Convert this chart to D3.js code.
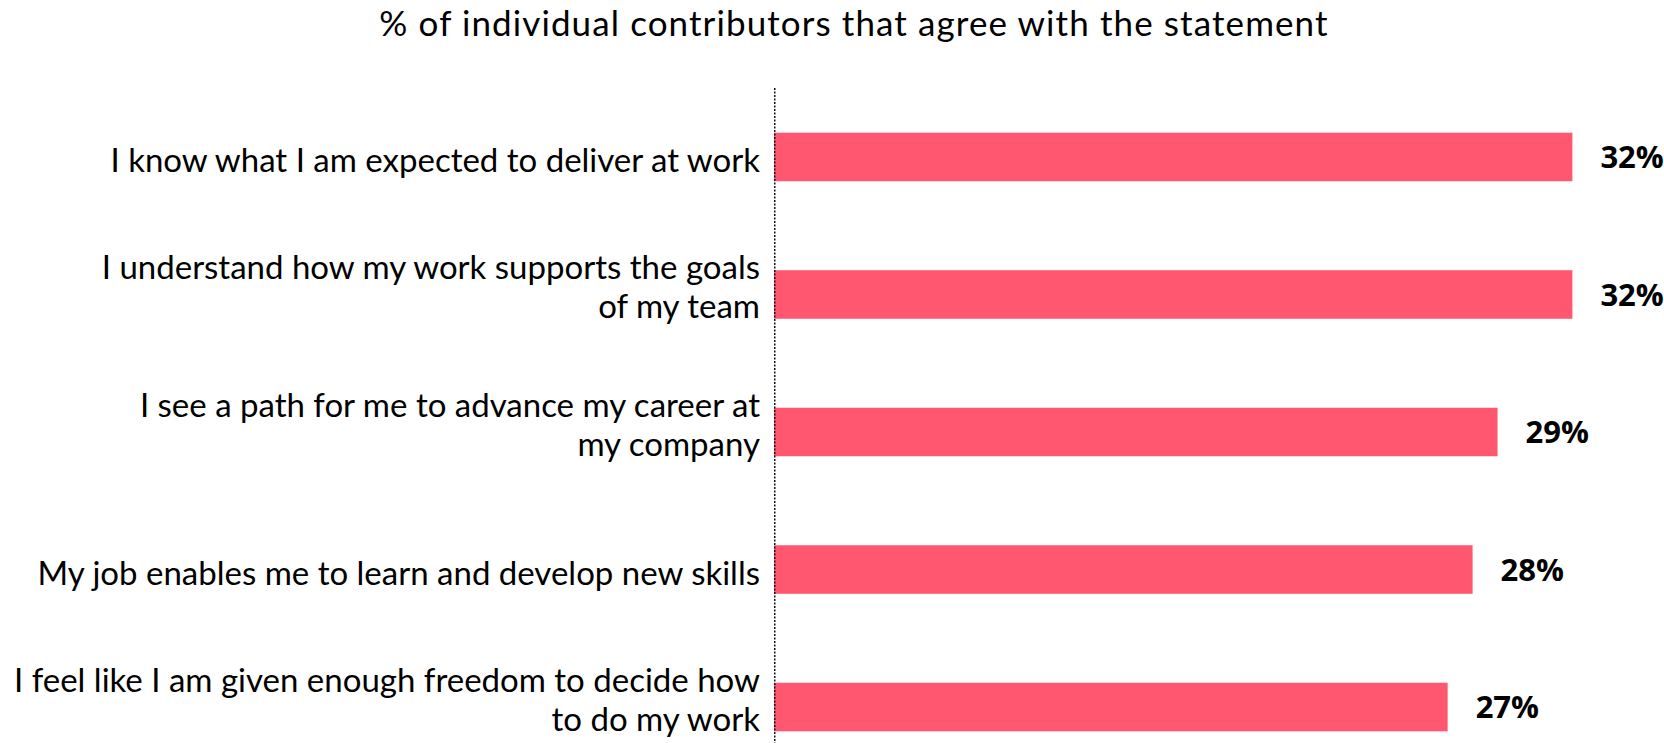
<!DOCTYPE html>
<html><head><meta charset="utf-8">
<script src="https://cdn.jsdelivr.net/npm/d3@7"></script>
<style>
  body { margin: 0; background: #fff; }
  svg { display: block; }
</style></head>
<body><svg id="chart" width="1664" height="743"></svg>
<script>
// Survey statements (each entry is a list of wrapped lines) and share agreeing, in %
const statements = [
  ["I know what I am expected to deliver at work"],
  ["I understand how my work supports the goals", "of my team"],
  ["I see a path for me to advance my career at", "my company"],
  ["My job enables me to learn and develop new skills"],
  ["I feel like I am given enough freedom to decide how", "to do my work"]
];
const agreePct = [32, 32, 29, 28, 27];
const chartTitle = "% of individual contributors that agree with the statement";

const W = 1664, H = 743;
const svg = d3.select("#chart");
const labelFont = "Lato, 'Open Sans', sans-serif";
const valueFont = "'Open Sans', 'Noto Sans', sans-serif";

const rows = statements.map((lines, i) => ({ key: String(i), lines, value: agreePct[i] }));

const x = d3.scaleLinear().domain([0, 32]).range([774, 1572.4]);
const y = d3.scaleBand()
  .domain(rows.map(d => d.key))
  .range([88, 776])
  .paddingInner(0.647)
  .paddingOuter(0.325);

// Title
svg.append("text")
  .attr("x", 854)
  .attr("y", 35.5)
  .attr("text-anchor", "middle")
  .attr("font-family", labelFont)
  .attr("font-size", 35)
  .attr("letter-spacing", 1.1)
  .attr("fill", "#000")
  .text(chartTitle);

// Bars
svg.append("g").selectAll("rect")
  .data(rows)
  .join("rect")
  .attr("x", x(0))
  .attr("y", d => y(d.key))
  .attr("width", d => x(d.value) - x(0))
  .attr("height", y.bandwidth())
  .attr("fill", "#ff5770");

// Dotted baseline
svg.append("line")
  .attr("x1", x(0) + 0.75).attr("x2", x(0) + 0.75)
  .attr("y1", 88).attr("y2", H)
  .attr("stroke", "#111")
  .attr("stroke-width", 1.5)
  .attr("stroke-dasharray", "2,1.5");

// Category labels, right-aligned against the baseline
const lineH = 38.5;
const cat = svg.append("g")
  .attr("font-family", labelFont)
  .attr("font-size", 33)
  .attr("fill", "#000")
  .attr("text-anchor", "end");
cat.selectAll("text")
  .data(rows)
  .join("text")
  .attr("x", 760)
  .attr("y", d => y(d.key) + y.bandwidth() / 2 + 15 - (d.lines.length - 1) * 30)
  .each(function (d) {
    d3.select(this).selectAll("tspan")
      .data(d.lines)
      .join("tspan")
      .attr("x", 760)
      .attr("dy", (l, j) => j === 0 ? 0 : lineH)
      .text(l => l);
  });

// Value labels
svg.append("g")
  .attr("font-family", valueFont)
  .attr("font-size", 31)
  .attr("font-weight", 700)
  .attr("fill", "#000")
  .selectAll("text")
  .data(rows)
  .join("text")
  .attr("x", d => x(d.value) + 28)
  .attr("y", d => y(d.key) + y.bandwidth() / 2)
  .attr("dy", "0.36em")
  .text(d => d.value + "%");
</script></body></html>
